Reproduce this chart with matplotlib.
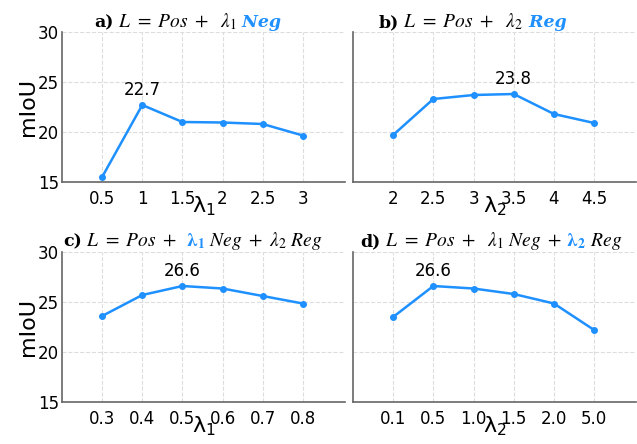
import matplotlib
matplotlib.use("Agg")
import matplotlib.pyplot as plt
from matplotlib.offsetbox import TextArea, HPacker, AnnotationBbox

# values
lam1_a = ['0.5', '1', '1.5', '2', '2.5', '3']
miou_a = [15.5, 22.7, 21.0, 20.95, 20.8, 19.65]

lam2_b = ['2', '2.5', '3', '3.5', '4', '4.5']
miou_b = [19.7, 23.3, 23.7, 23.8, 21.8, 20.9]

lam1_c = ['0.3', '0.4', '0.5', '0.6', '0.7', '0.8']
miou_c = [23.6, 25.7, 26.6, 26.35, 25.6, 24.85]

lam2_d = ['0.1', '0.5', '1.0', '1.5', '2.0', '5.0']
miou_d = [23.5, 26.6, 26.35, 25.8, 24.85, 22.2]

BLUE = '#1E90FF'
SPINE = '#666666'

fig = plt.figure(figsize=(6.37, 4.44), dpi=100)

ax_a = fig.add_axes([0.0973, 0.5901, 0.4443, 0.3378])
ax_b = fig.add_axes([0.5540, 0.5901, 0.4450, 0.3378])
ax_c = fig.add_axes([0.0973, 0.0946, 0.4443, 0.3378])
ax_d = fig.add_axes([0.5540, 0.0946, 0.4450, 0.3378])

TS = 14
serif = dict(family='DejaVu Serif', size=TS - 1.5, color='black')
math = dict(size=TS, color='black', math_fontfamily='stix')


def add_title(ax, xc, parts):
    boxes = [TextArea(t, textprops=p) for t, p in parts]
    pack = HPacker(children=boxes, align='baseline', pad=0, sep=0)
    ab = AnnotationBbox(pack, (xc, 1.0), xycoords='axes fraction',
                        box_alignment=(0.5, 0.0), frameon=False, pad=0,
                        annotation_clip=False)
    ax.add_artist(ab)


def draw(ax, xs, ys, xlab, ylabel=True):
    ax.plot(xs, ys, color=BLUE, lw=1.8, marker='o', ms=4)
    ax.set_xlim(-1, 6.05)
    ax.set_ylim(15, 30)
    ax.set_yticks([15, 20, 25, 30])
    ax.grid(True, ls='--', color='#dddddd', lw=0.8)
    ax.set_axisbelow(True)
    for s in ['top', 'right']:
        ax.spines[s].set_visible(False)
    for s in ['left', 'bottom']:
        ax.spines[s].set_color(SPINE)
        ax.spines[s].set_linewidth(1.2)
    ax.tick_params(axis='x', length=0, pad=6, labelsize=12)
    ax.tick_params(axis='y', length=0, pad=2, labelsize=12)
    ax.set_xlabel(xlab, fontsize=16, labelpad=-10)
    if ylabel:
        ax.set_ylabel('mIoU', fontsize=16, labelpad=0)
    else:
        ax.tick_params(axis='y', labelleft=False)
    i = ys.index(max(ys))
    ax.annotate(f'{ys[i]:.1f}', (xs[i], ys[i]), xytext=(0, 4),
                textcoords='offset points', ha='center', va='bottom',
                fontsize=12)


draw(ax_a, lam1_a, miou_a, r'$\mathregular{λ_1}$')
draw(ax_b, lam2_b, miou_b, r'$\mathregular{λ_2}$', ylabel=False)
draw(ax_c, lam1_c, miou_c, r'$\mathregular{λ_1}$')
draw(ax_d, lam2_d, miou_d, r'$\mathregular{λ_2}$', ylabel=False)

bold = dict(serif, weight='bold')
blue_bi = dict(family='DejaVu Serif', size=TS - 1.5, color=BLUE,
               weight='bold', style='italic')
blue_math = dict(math, color=BLUE)

add_title(ax_a, 0.445, [('a)', bold),
                        (r'$\ L\ =\ Pos\ +\ \ \lambda_1$', math),
                        (' Neg', blue_bi)])
add_title(ax_b, 0.423, [('b)', bold),
                        (r'$\ L\ =\ Pos\ +\ \ \lambda_2$', math),
                        (' Reg', blue_bi)])
add_title(ax_c, 0.463, [('c)', bold), (r'$\ L\ =\ Pos\ +$', math),
                        (r'$\ \ \mathbf{\lambda_1}$', blue_math),
                        (r'$\ Neg\ +\ \lambda_2\ Reg$', math)])
add_title(ax_d, 0.489, [('d)', bold),
                        (r'$\ L\ =\ Pos\ +\ \ \lambda_1\ Neg\ +$', math),
                        (r'$\ \mathbf{\lambda_2}$', blue_math),
                        (r'$\ Reg$', math)])

fig.savefig('out.png', dpi=100)
